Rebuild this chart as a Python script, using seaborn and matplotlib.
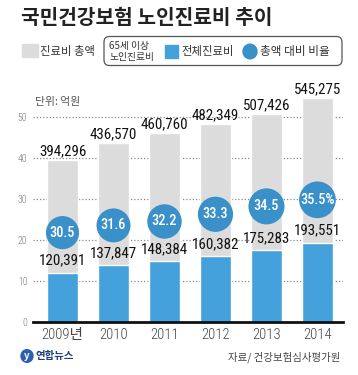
import matplotlib

matplotlib.use("Agg")

import matplotlib.pyplot as plt
import pandas as pd
import seaborn as sns
from matplotlib.patches import FancyBboxPatch, Rectangle, Circle

years = ["2009년", "2010", "2011", "2012", "2013", "2014"]
total_cost = [394296, 436570, 460760, 482349, 507426, 545275]
elderly_cost = [120391, 137847, 148384, 160382, 175283, 193551]
ratio = [30.5, 31.6, 32.2, 33.3, 34.5, 35.5]
ratio_labels = ["30.5", "31.6", "32.2", "33.3", "34.5", "35.5%"]
y_ticks = [0, 10, 20, 30, 40, 50]

GRAY = "#dcdcdc"
BLUE = "#45a1dc"
CIRCLE = "#3a90c9"
KR = ["Noto Sans CJK KR", "DejaVu Sans"]
NUM = ["Roboto Condensed", "Noto Sans CJK KR", "DejaVu Sans"]

sns.set_theme(style="white")
plt.rcParams["font.family"] = KR

frame = pd.DataFrame({
    "year": years,
    "total": [v / 10000 for v in total_cost],
    "elderly": [v / 10000 for v in elderly_cost],
    "ratio": ratio,
})

fig = plt.figure(figsize=(3.58, 3.75), dpi=100)
ax = fig.add_axes([0.092, 0.1413, 0.866, 0.6232])

sns.barplot(data=frame, x="year", y="total", color=GRAY, width=0.6,
            saturation=1, ax=ax)
sns.barplot(data=frame, x="year", y="elderly", color=BLUE, width=0.6,
            saturation=1, ax=ax)

ax.set_xlim(-0.58, 5.5)
ax.set_ylim(0, 57)
ax.set_yticks(y_ticks)
ax.set_axisbelow(True)
for t in y_ticks[1:]:
    ax.axhline(t, color="#8a8a8a", lw=0.9, ls=(0, (1, 1.6)), zorder=0)
ax.set_xlabel("")
ax.set_ylabel("")
for side in ["top", "right", "left"]:
    ax.spines[side].set_visible(False)
ax.spines["bottom"].set_color("#111111")
ax.spines["bottom"].set_linewidth(2)
ax.tick_params(axis="y", length=0, labelsize=7, labelcolor="#777777", pad=4)
ax.tick_params(axis="x", length=0, labelsize=10.5, labelcolor="#444444", pad=4)
for lab in ax.get_xticklabels():
    lab.set_family(NUM)
    lab.set_fontweight(300)
for lab in ax.get_yticklabels():
    lab.set_family(NUM)
    lab.set_fontweight(300)
    lab.set_horizontalalignment("right")

for i, (tot, eld) in enumerate(zip(frame["total"], frame["elderly"])):
    ax.text(i, tot + 0.5, f"{total_cost[i]:,}", ha="center", va="bottom",
            fontsize=10.8, family=NUM, color="#111111")
    ax.text(i, eld + 1.3, f"{elderly_cost[i]:,}", ha="center", va="bottom",
            fontsize=10.8, family=NUM, color="#111111")

# ratio circles on a secondary scale
ax2 = ax.twinx()
ax2.set_ylim((0 + 27) / 1.6, (57 + 27) / 1.6)
sns.scatterplot(data=frame, x="year", y="ratio", size="ratio",
                sizes=(570, 700), color=CIRCLE, edgecolor="none",
                legend=False, ax=ax2, zorder=5)
for i, r in enumerate(ratio):
    ax2.text(i, r, ratio_labels[i], ha="center", va="center", fontsize=10.3,
             family=NUM, fontweight=500, color="white", zorder=6)
ax2.set_ylabel("")
ax2.set_yticks([])
for side in ["top", "right", "left", "bottom"]:
    ax2.spines[side].set_visible(False)
ax2.set_xlim(-0.58, 5.5)

# title
fig.text(0.06, 0.952, "국민건강보험 노인진료비 추이", fontsize=14.6,
         fontweight="bold", color="#222222", va="center", ha="left")

# legend row
fig.patches.append(Rectangle((22 / 358, 1 - 57 / 375), 16 / 358, 13 / 375,
                             transform=fig.transFigure, color=GRAY, zorder=3))
fig.text(40 / 358, 1 - 51 / 375, "진료비 총액", fontsize=8.2, va="center",
         color="#333333")
fig.patches.append(FancyBboxPatch((104 / 358, 1 - 65.5 / 375), 238 / 358, 29 / 375,
                                  boxstyle="round,pad=0,rounding_size=0.015",
                                  transform=fig.transFigure, fill=False,
                                  ec="#555555", lw=0.9, zorder=3))
fig.text(109 / 358, 1 - 46.5 / 375, "65세 이상", fontsize=7.0,
         va="center", color="#333333")
fig.text(109 / 358, 1 - 57 / 375, "노인진료비", fontsize=7.0,
         va="center", color="#333333")
fig.patches.append(Rectangle((165 / 358, 1 - 57.5 / 375), 13 / 358, 13 / 375,
                             transform=fig.transFigure, color=BLUE, zorder=3))
fig.text(181 / 358, 1 - 51.5 / 375, "전체진료비", fontsize=8.2, va="center",
         color="#333333")
fig.patches.append(Circle((250 / 358, 1 - 51.5 / 375), 7 / 358,
                          transform=fig.transFigure, color=CIRCLE, zorder=3))
fig.text(260 / 358, 1 - 51.5 / 375, "총액 대비 비율", fontsize=8.4, va="center",
         color="#333333")

fig.text(35 / 358, 1 - 102 / 375, "단위: 억원", fontsize=7.8, va="center",
         color="#555555")

# footer
fig.patches.append(Circle((27 / 358, 1 - 356 / 375), 6 / 358,
                          transform=fig.transFigure, color="#2b5fb0", zorder=3))
fig.text(27 / 358, 1 - 356 / 375, "y", fontsize=7, fontweight="bold",
         style="italic", color="white", ha="center", va="center")
fig.text(35 / 358, 1 - 356 / 375, "연합뉴스", fontsize=7.5, fontweight="bold",
         va="center", color="#1f3f80")
fig.text(340 / 358, 1 - 357 / 375, "자료/ 건강보험심사평가원", fontsize=7.5,
         style="italic", va="center", ha="right", color="#444444")

fig.savefig("out.png", dpi=100)
plt.close(fig)
